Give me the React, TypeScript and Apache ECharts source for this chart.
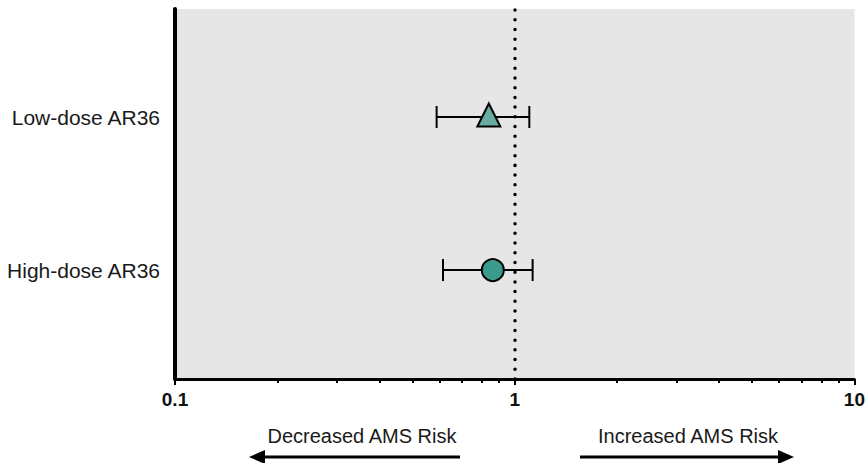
import React, { useEffect, useRef } from "react";
import * as echarts from "echarts";

const categories = ["High-dose AR36", "Low-dose AR36"];
const rowPositions = [1, 2];
const estimates = [0.862, 0.839];
const lowerCI = [0.615, 0.589];
const upperCI = [1.129, 1.104];
const markerSymbols = ["circle", "triangle"];
const markerColors = ["#3a9a8c", "#68aba3"];
const xMajorTicks = [0.1, 1, 10];
const xMinorTicks = [0.2, 0.3, 0.4, 0.5, 0.6, 0.7, 0.8, 0.9, 2, 3, 4, 5, 6, 7, 8, 9];
const referenceValue = 1;

const FONT = "Arial, 'Liberation Sans', Helvetica, sans-serif";

export default function App() {
  const ref = useRef<HTMLDivElement>(null);
  useEffect(() => {
    if (!ref.current) return;
    const chart = echarts.init(ref.current, null, { renderer: "svg" });
    const errData = rowPositions.map((y, i) => [y, lowerCI[i], upperCI[i]]);
    const option: any = {
      animation: false,
      backgroundColor: "#ffffff",
      grid: { left: 175, right: 11, top: 9, bottom: 84, show: true, backgroundColor: "#e6e6e6", borderWidth: 0 },
      xAxis: [
        {
          type: "log",
          logBase: 10,
          min: 0.1,
          max: 10,
          axisLine: { show: true, lineStyle: { color: "#000", width: 3 } },
          axisTick: { show: true, length: 6, lineStyle: { color: "#000", width: 2 }, customValues: xMajorTicks },
          axisLabel: {
            show: true,
            customValues: xMajorTicks,
            fontFamily: FONT,
            fontSize: 19,
            fontWeight: "bold",
            color: "#111",
            margin: 11,
            formatter: (v: number) => String(v),
          },
          splitLine: { show: false },
          minorTick: { show: false },
          z: 4,
        },
        {
          type: "log",
          logBase: 10,
          min: 0.1,
          max: 10,
          position: "bottom",
          axisLine: { show: false },
          axisTick: { show: true, length: 4, lineStyle: { color: "#000", width: 2 }, customValues: xMinorTicks },
          axisLabel: { show: false },
          splitLine: { show: false },
          z: 4,
        },
      ],
      yAxis: {
        type: "value",
        min: 0.288,
        max: 2.706,
        axisLine: { show: true, lineStyle: { color: "#000", width: 4 } },
        axisTick: { show: false },
        splitLine: { show: false },
        axisLabel: {
          show: true,
          customValues: rowPositions,
          fontFamily: FONT,
          fontSize: 21,
          color: "#1a1a1a",
          margin: 15,
          formatter: (v: number) => {
            const idx = rowPositions.indexOf(Math.round(v));
            return idx >= 0 ? categories[idx] : "";
          },
        },
      },
      series: [
        {
          type: "custom",
          xAxisIndex: 0,
          renderItem: (params: any, api: any) => {
            const y = api.value(0);
            const lo = api.coord([api.value(1), y]);
            const hi = api.coord([api.value(2), y]);
            const cap = 11;
            const style = { stroke: "#000", lineWidth: 2, fill: "none" };
            return {
              type: "group",
              children: [
                { type: "line", shape: { x1: lo[0], y1: lo[1], x2: hi[0], y2: hi[1] }, style },
                { type: "line", shape: { x1: lo[0], y1: lo[1] - cap, x2: lo[0], y2: lo[1] + cap }, style },
                { type: "line", shape: { x1: hi[0], y1: hi[1] - cap, x2: hi[0], y2: hi[1] + cap }, style },
              ],
            };
          },
          encode: { x: [1, 2], y: 0 },
          data: errData,
          z: 3,
          markLine: {
            silent: true,
            symbol: "none",
            label: { show: false },
            lineStyle: { color: "#000", width: 3.5, type: [0.01, 9.7], cap: "round" },
            data: [{ xAxis: referenceValue }],
          },
        },
        ...rowPositions.map((y, i) => ({
          type: "scatter",
          xAxisIndex: 0,
          symbol: markerSymbols[i],
          symbolSize: markerSymbols[i] === "triangle" ? 23 : 22,
          symbolOffset: markerSymbols[i] === "triangle" ? [0, -2] : [0, 0],
          itemStyle: { color: markerColors[i], borderColor: "#000", borderWidth: 2, opacity: 1 },
          data: [[estimates[i], y]],
          z: 5,
        })),
      ],
      graphic: [
        {
          type: "text",
          x: 362,
          y: 436,
          style: { text: "Decreased AMS Risk", font: `20px ${FONT}`, fill: "#1a1a1a", align: "center", verticalAlign: "middle" },
        },
        {
          type: "text",
          x: 688,
          y: 436,
          style: { text: "Increased AMS Risk", font: `20px ${FONT}`, fill: "#1a1a1a", align: "center", verticalAlign: "middle" },
        },
        { type: "line", shape: { x1: 260, y1: 457, x2: 460, y2: 457 }, style: { stroke: "#000", lineWidth: 3 } },
        { type: "polygon", shape: { points: [[249, 457], [265, 450], [265, 464]] }, style: { fill: "#000" } },
        { type: "line", shape: { x1: 580, y1: 457, x2: 783, y2: 457 }, style: { stroke: "#000", lineWidth: 3 } },
        { type: "polygon", shape: { points: [[794, 457], [778, 450], [778, 464]] }, style: { fill: "#000" } },
      ],
    };
    chart.setOption(option);
    return () => chart.dispose();
  }, []);
  return <div ref={ref} style={{ width: 868, height: 463, position: "absolute", left: 0, top: 0 }} />;
}
